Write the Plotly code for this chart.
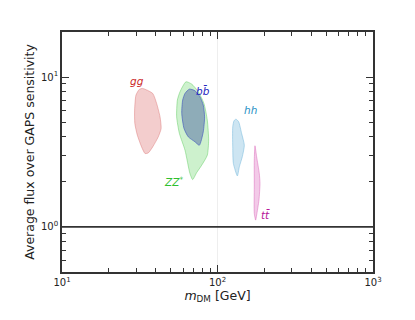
import math
import plotly.graph_objects as go

# ---- data (m_DM in GeV, flux ratio) ----
gg_x = [33.0, 38.3, 40.6, 42.7, 43.4, 41.6, 38.3, 35.9, 34.2, 32.5, 30.5, 29.4, 29.3, 29.9, 31.4, 33.0]
gg_y = [8.40, 7.78, 6.67, 5.43, 4.54, 3.99, 3.42, 3.12, 3.09, 3.42, 4.10, 4.90, 6.02, 7.58, 8.27, 8.40]

zz_x = [62.7, 68.2, 75.3, 81.8, 86.0, 87.7, 86.0, 79.1, 73.4, 69.2, 66.5, 61.8, 56.9, 54.6, 55.2, 57.4, 62.7]
zz_y = [9.31, 8.98, 7.98, 6.67, 5.16, 3.79, 3.01, 2.58, 2.30, 2.07, 2.27, 3.25, 4.20, 5.43, 7.02, 7.98, 9.31]

bb_x = [65.9, 71.6, 77.1, 81.0, 82.6, 81.0, 76.4, 71.6, 64.9, 60.9, 58.9, 59.7, 61.8, 65.9]
bb_y = [8.31, 8.11, 7.39, 6.50, 5.43, 4.31, 3.51, 3.70, 3.99, 4.54, 5.72, 7.02, 7.78, 8.31]

hh_x = [131.5, 136.8, 143.0, 148.8, 144.4, 138.2, 134.2, 126.5, 125.3, 125.3, 127.7, 131.5]
hh_y = [5.24, 5.03, 4.20, 3.51, 2.94, 2.52, 2.19, 2.65, 3.42, 4.66, 5.11, 5.24]

tt_x = [174.2, 178.5, 185.7, 187.6, 184.8, 178.5, 175.9, 172.4, 172.4, 172.4, 174.2]
tt_y = [3.48, 2.94, 2.27, 1.95, 1.51, 1.20, 1.11, 1.23, 1.85, 2.79, 3.48]

label_text = ["<i>gg</i>", "<i>bb̄</i>", "<i>hh</i>", "<i>ZZ</i><sup>*</sup>", "<i>tt̄</i>"]
label_x = [30.2, 81.1, 161.8, 52.0, 203.2]
label_y = [9.45, 8.06, 6.02, 2.02, 1.21]
label_color = ["#cc2a2a", "#2525c0", "#1f8fc4", "#2fbf2f", "#b8169a"]

x_tickvals = [10, 100, 1000]
x_ticktext = ["10<sup>1</sup>", "10<sup>2</sup>", "10<sup>3</sup>"]
y_tickvals = [1, 10]
y_ticktext = ["10<sup>0</sup>", "10<sup>1</sup>"]

THRESHOLD = 1.0

fig = go.Figure()

regions = [
    (gg_x, gg_y, "rgba(214,90,90,0.30)", "rgba(214,100,100,0.40)"),
    (zz_x, zz_y, "rgba(70,205,70,0.27)", "rgba(70,195,70,0.40)"),
    (bb_x, bb_y, "rgba(40,60,150,0.38)", "rgba(60,80,190,0.60)"),
    (hh_x, hh_y, "rgba(100,175,215,0.32)", "rgba(100,175,215,0.45)"),
    (tt_x, tt_y, "rgba(215,80,180,0.30)", "rgba(215,90,180,0.45)"),
]
for xs, ys, fc, lc in regions:
    fig.add_trace(go.Scatter(x=xs, y=ys, mode="lines", fill="toself",
                             fillcolor=fc, line=dict(color=lc, width=1, shape="spline", smoothing=0.6),
                             hoverinfo="skip", showlegend=False))

fig.add_hline(y=THRESHOLD, line=dict(color="#333333", width=1.6))

for t, x, y, c in zip(label_text, label_x, label_y, label_color):
    fig.add_annotation(x=math.log10(x), y=math.log10(y), text=t, showarrow=False,
                       font=dict(color=c, size=10.5, family="DejaVu Sans"),
                       xref="x", yref="y", xanchor="center", yanchor="middle")

axis_common = dict(
    type="log", showline=True, linecolor="#333333", linewidth=1.6, mirror="allticks",
    ticks="inside", ticklen=7, tickwidth=1, tickcolor="#333333",
    zeroline=False, automargin=False,
    minor=dict(ticks="inside", ticklen=4, tickwidth=0.8, tickcolor="#333333", showgrid=False, dtick="D1"),
    tickfont=dict(size=10, family="DejaVu Sans", color="#222222"),
)

fig.update_xaxes(**axis_common, range=[1, 3], tickvals=x_tickvals, ticktext=x_ticktext,
                 showgrid=True, gridcolor="#eeeeee", gridwidth=1,
                 title=dict(text="<i>m</i><sub>DM</sub> [GeV]", font=dict(size=12.5, family="DejaVu Sans", color="#222222"), standoff=0))
fig.update_yaxes(**axis_common, range=[-0.301, 1.301], tickvals=y_tickvals, ticktext=y_ticktext, showgrid=False,
                 title=dict(text="Average flux over GAPS sensitivity", font=dict(size=12.5, family="DejaVu Sans", color="#222222"), standoff=4))

fig.update_layout(
    width=407, height=312,
    margin=dict(l=54, r=42, t=24, b=48),
    paper_bgcolor="white", plot_bgcolor="white",
    font=dict(family="DejaVu Sans"),
)

fig.write_html("out.html")
